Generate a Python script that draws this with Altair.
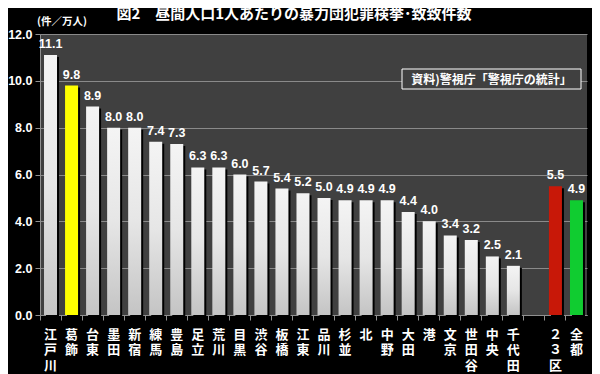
import altair as alt
import pandas as pd

categories = ["江戸川", "葛飾", "台東", "墨田", "新宿", "練馬", "豊島", "足立", "荒川", "目黒",
              "渋谷", "板橋", "江東", "品川", "杉並", "北", "中野", "大田", "港", "文京",
              "世田谷", "中央", "千代田", " ", "２３区", "全都"]
values = [11.1, 9.8, 8.9, 8.0, 8.0, 7.4, 7.3, 6.3, 6.3, 6.0,
          5.7, 5.4, 5.2, 5.0, 4.9, 4.9, 4.9, 4.4, 4.0, 3.4,
          3.2, 2.5, 2.1, None, 5.5, 4.9]
groups = ["ward"] * 23 + ["blank", "total23", "all"]
groups[1] = "hl"

df = pd.DataFrame({"cat": categories, "val": values, "grp": groups})
df["lbl"] = df["val"].map(lambda v: "" if pd.isna(v) else f"{v:.1f}")

FONT = "Noto Sans CJK JP"
NUMFONT = "Liberation Sans"
TITLE = "図2　昼間人口1人あたりの暴力団犯罪検挙･致致件数"

x = alt.X("cat:N", sort=categories,
          scale=alt.Scale(domain=categories, paddingInner=0, paddingOuter=0),
          axis=alt.Axis(title=None, labelAngle=0, bandPosition=0,
                        labelExpr="split(datum.label, '')",
                        labelColor="white", labelFont=FONT, labelFontSize=13,
                        labelFontWeight="bold", labelLineHeight=15.5,
                        labelPadding=8, labelBaseline="top",
                        domainColor="#909090", tickColor="#909090", tickSize=5,
                        grid=False))
y = alt.Y("val:Q", scale=alt.Scale(domain=[0, 12]),
          axis=alt.Axis(title=None, values=[0, 2, 4, 6, 8, 10, 12], format=".1f",
                        labelColor="white", labelFont=NUMFONT, labelFontSize=12.5,
                        labelFontWeight="bold", labelPadding=3,
                        domainColor="#909090", tickColor="#909090", tickSize=5,
                        gridColor="#8a8a8a", gridWidth=1))

base = alt.Chart(df).encode(x=x, y=y)
bars_df = base.transform_filter("datum.grp != 'blank'")

shadow = bars_df.mark_bar(size=13, color="black", xOffset=2, yOffset=2)

grad = alt.Gradient(gradient="linear",
                    stops=[alt.GradientStop(color="#f4f4f4", offset=0),
                           alt.GradientStop(color="#e6e6e6", offset=0.5),
                           alt.GradientStop(color="#c4c4c4", offset=1)],
                    x1=0, x2=0, y1=0, y2=1)
ward = base.transform_filter("datum.grp == 'ward'").mark_bar(size=13, color=grad)
hl = base.transform_filter("datum.grp == 'hl'").mark_bar(size=13, color="#ffff00")
t23 = base.transform_filter("datum.grp == 'total23'").mark_bar(size=13, color="#c81808")
tall = base.transform_filter("datum.grp == 'all'").mark_bar(size=13, color="#10cc30")

labels = bars_df.mark_text(baseline="bottom", dy=-4, color="white", font=NUMFONT,
                           fontSize=12.5, fontWeight="bold").encode(text="lbl:N")

title = alt.Chart(pd.DataFrame({"t": [TITLE]})).mark_text(
    color="white", font=FONT, fontSize=15, fontWeight="bold").encode(
    x=alt.value(254), y=alt.value(-20), text="t:N")

unit = alt.Chart(pd.DataFrame({"t": ["(件／万人)"]})).mark_text(
    color="white", font=FONT, fontSize=10.5, fontWeight="bold").encode(
    x=alt.value(22), y=alt.value(-12), text="t:N")

src_box = alt.Chart(pd.DataFrame({"t": ["資料)警視庁「警視庁の統計」"]})).mark_rect(
    fill="#404040", stroke="white", strokeWidth=1).encode(
    x=alt.value(362), x2=alt.value(541), y=alt.value(35), y2=alt.value(55))
src_text = alt.Chart(pd.DataFrame({"t": ["資料)警視庁「警視庁の統計」"]})).mark_text(
    color="white", font=FONT, fontSize=12, fontWeight="bold").encode(
    x=alt.value(451.5), y=alt.value(45.5), text="t:N")

chart = alt.layer(shadow, ward, hl, t23, tall, labels, title, unit, src_box, src_text).properties(
    width=547, height=281,
    background="black",
    padding={"left": 32, "top": 26, "right": 5, "bottom": 60},
    autosize=alt.AutoSizeParams(type="none"),
).configure_view(fill="#404040", stroke=None)

chart.save("out.html", embed_options={"renderer": "svg", "actions": False})
